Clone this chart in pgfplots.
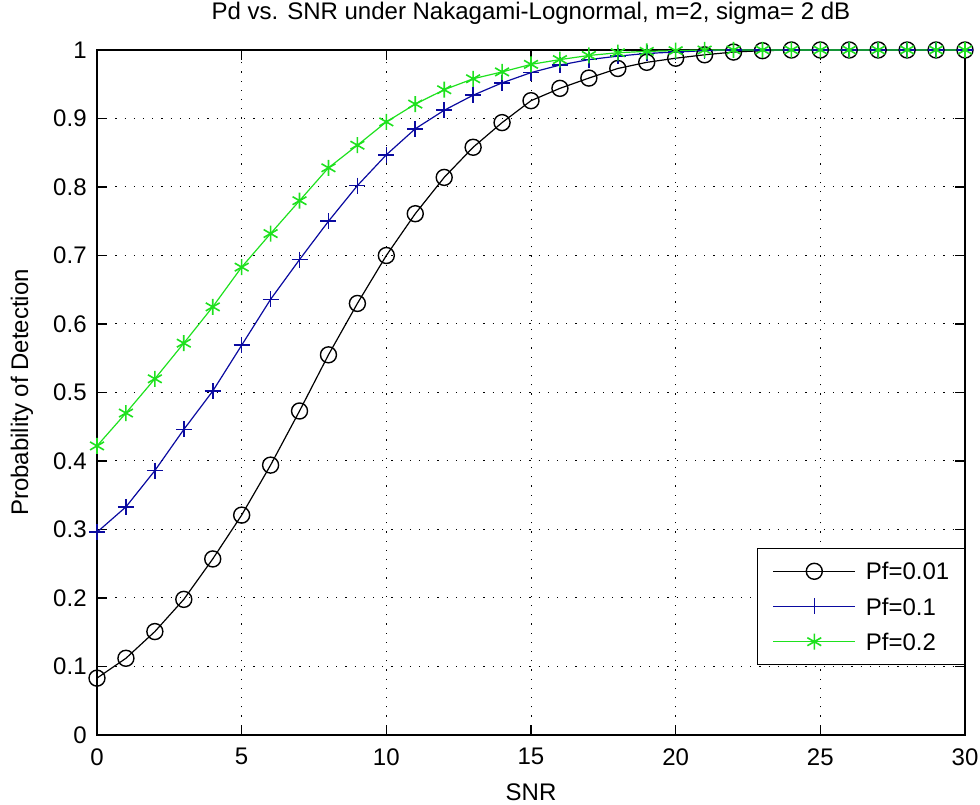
\documentclass[border=0pt]{standalone}
\usepackage{fontspec}
\setmainfont{Liberation Sans}
\usepackage{pgfplots}
\usepackage{pgfplotstable}
\pgfplotsset{compat=1.18}
\definecolor{mblue}{RGB}{10,10,160}
\definecolor{mgreen}{RGB}{30,225,30}

\pgfplotstableread{
x pa pb pc
0 0.083 0.296 0.422
1 0.112 0.333 0.470
2 0.151 0.386 0.520
3 0.198 0.446 0.572
4 0.257 0.502 0.625
5 0.321 0.569 0.683
6 0.394 0.636 0.732
7 0.473 0.694 0.780
8 0.555 0.750 0.828
9 0.630 0.802 0.861
10 0.700 0.847 0.895
11 0.761 0.885 0.921
12 0.814 0.912 0.942
13 0.858 0.934 0.958
14 0.894 0.952 0.968
15 0.926 0.967 0.979
16 0.944 0.978 0.986
17 0.959 0.986 0.992
18 0.973 0.991 0.996
19 0.982 0.995 0.998
20 0.988 0.997 0.999
21 0.993 0.999 1.000
22 0.997 1.000 1.000
23 0.999 1.000 1.000
24 1.000 1.000 1.000
25 1.000 1.000 1.000
26 1.000 1.000 1.000
27 1.000 1.000 1.000
28 1.000 1.000 1.000
29 1.000 1.000 1.000
30 1.000 1.000 1.000
}\datatable

\begin{document}
\begin{tikzpicture}
\begin{axis}[
  scale only axis,
  width=434bp, height=342.5bp,
  xmin=0, xmax=30, ymin=0, ymax=1,
  xtick={0,5,...,30},
  ytick={0,0.1,...,1.0},
  yticklabels={0,0.1,0.2,0.3,0.4,0.5,0.6,0.7,0.8,0.9,1},
  font=\fontsize{12bp}{14bp}\selectfont,
  /pgf/number format/assume math mode=true,
  tick align=inside,
  major tick length=5bp,
  every tick/.style={black, line width=0.6bp},
  axis line style={black, line width=0.7bp},
  grid=major,
  major grid style={black, line width=0.5bp, dash pattern=on 0.6bp off 4bp},
  xticklabel style={anchor=north, inner sep=0pt, yshift=-6.5bp},
  yticklabel style={anchor=east, inner sep=0pt, xshift=-5bp},
  xlabel={SNR},
  ylabel={Probability of Detection},
  xlabel style={at={(axis description cs:0.5,-0.0832)}, anchor=center, inner sep=0pt},
  ylabel style={at={(axis description cs:-0.0864,0.5)}, anchor=center, inner sep=0pt},
  every axis title shift=0pt,
  title={Pd vs. SNR under Nakagami-Lognormal, m=2, sigma= 2 dB},
  title style={at={(axis description cs:0.5,1.053)}, anchor=center, inner sep=0pt},
  clip=false,
  legend cell align=left,
  legend style={at={(rel axis cs:1,0.1022)}, anchor=south east,
    draw=black, line width=0.7bp, fill=white,
    inner xsep=7.5bp, inner ysep=7bp, row sep=9bp,
    nodes={inner sep=0pt, text height=8.6bp, text depth=0pt},
    font=\fontsize{12bp}{14bp}\selectfont,
    /tikz/every odd column/.append style={column sep=5bp}},
  legend image code/.code={\draw[mark repeat=2,mark phase=2, line width=0.6bp] plot coordinates {(0bp,0bp) (20.5bp,0bp) (41bp,0bp)};},
]
\addplot[black, line width=0.6bp, mark=o, mark size=4bp, mark options={solid, line width=0.7bp}] table[x=x,y=pa]{\datatable};
\addlegendentry{Pf=0.01}
\addplot[mblue, line width=0.6bp, mark=+, mark size=4bp, mark options={solid, line width=0.8bp}] table[x=x,y=pb]{\datatable};
\addlegendentry{Pf=0.1}
\addplot[mgreen, line width=0.6bp, mark=asterisk, mark size=4bp, mark options={solid, line width=0.8bp}] table[x=x,y=pc]{\datatable};
\addlegendentry{Pf=0.2}
\coordinate (BL) at (rel axis cs:0,0);
\coordinate (TR) at (rel axis cs:1,1);
\end{axis}
\pgfresetboundingbox
\path[use as bounding box] ([shift={(-48.5bp,-35bp)}]BL) rectangle ([shift={(7.5bp,25bp)}]TR);
\end{tikzpicture}
\end{document}
